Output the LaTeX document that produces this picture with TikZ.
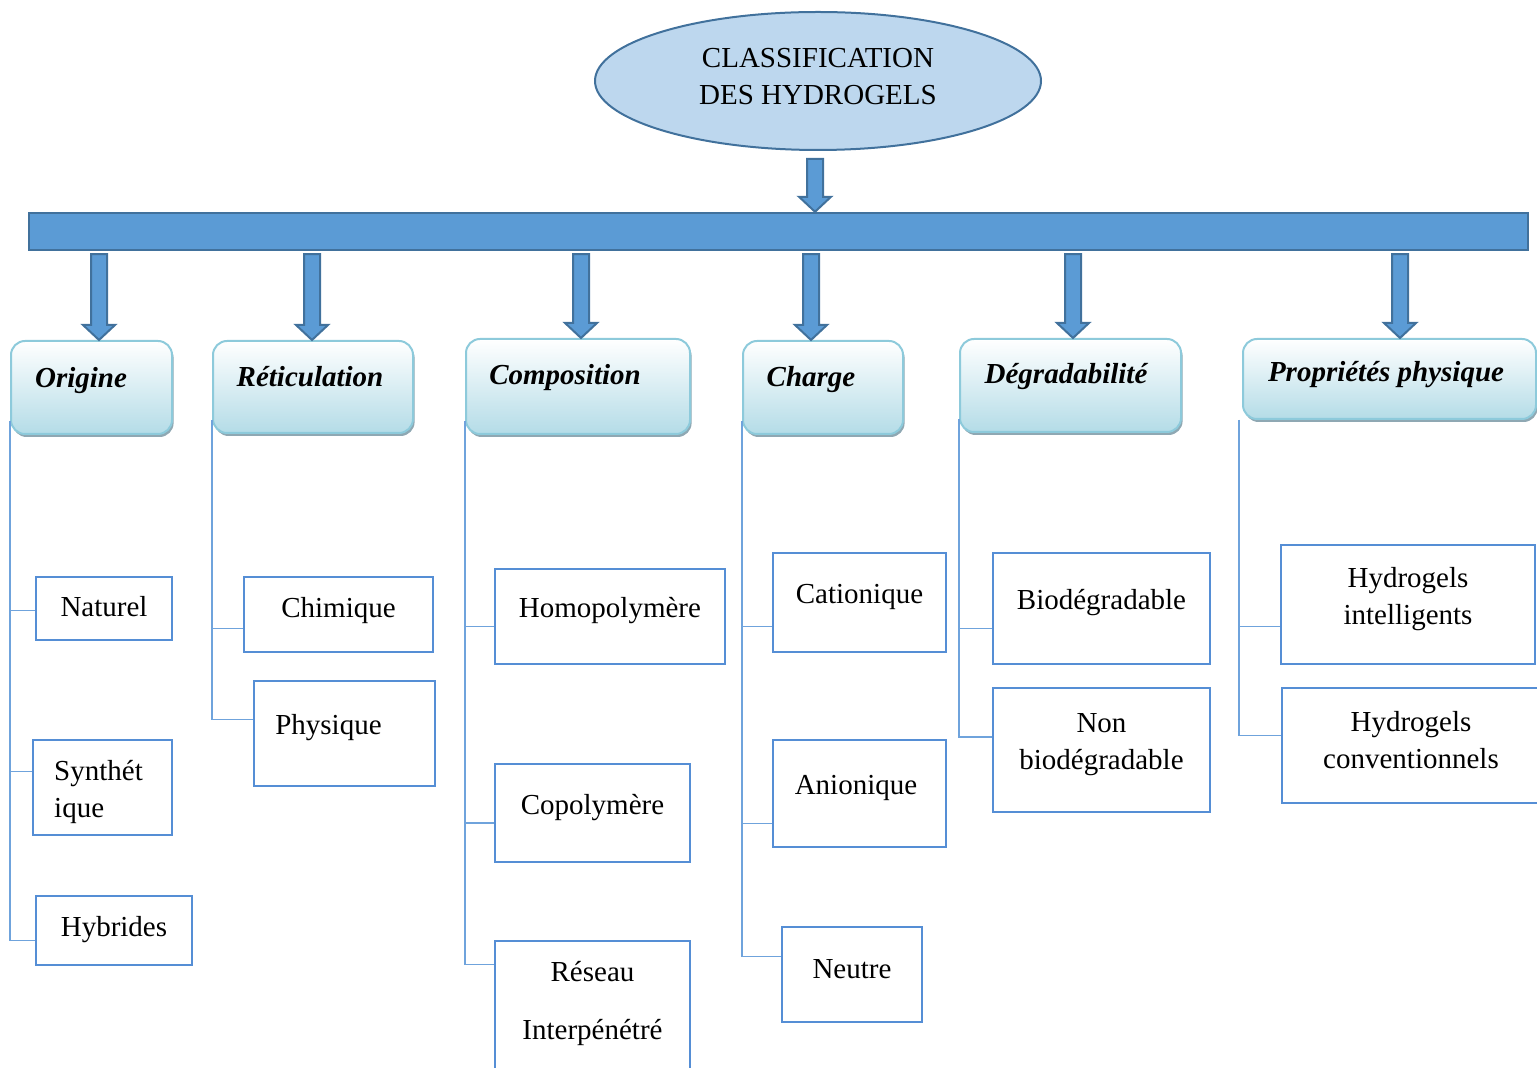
\documentclass[tikz,border=0pt]{standalone}
\usepackage{fontspec}
\setmainfont{Liberation Serif}
\usetikzlibrary{calc,shadows,shapes.geometric}
\definecolor{barblue}{HTML}{5B9BD5}
\definecolor{edgeblue}{HTML}{41719C}
\definecolor{rootfill}{HTML}{BDD7EE}
\definecolor{headline}{HTML}{8DCADB}
\definecolor{headfill}{HTML}{B4DCE7}
\definecolor{headshadow}{HTML}{8FA8B3}
\definecolor{leafline}{HTML}{558ED5}
\definecolor{linkblue}{HTML}{6FA3DC}
\tikzset{
% Ellipse on top, shaded headers, plain boxes for the classes
root node/.style={ellipse,draw=edgeblue,line width=1pt,fill=rootfill,minimum width=223pt,minimum height=69pt,inner sep=0},
bar node/.style={rectangle,draw=edgeblue,line width=1.2pt,fill=barblue,minimum width=749.5pt,minimum height=18.5pt,inner sep=0},
head node/.style={rectangle,rounded corners=7pt,draw=headline,line width=1pt,top color=white,bottom color=headfill,
  drop shadow={shadow xshift=0.8pt,shadow yshift=-1.5pt,fill=headshadow,opacity=1}},
head text/.style={font=\fontsize{14.5}{18}\selectfont\bfseries\itshape},
leaf node/.style={rectangle,draw=leafline,line width=1.2pt,fill=white},
leaf text/.style={align=center,yshift=2.75pt},
link/.style={draw=linkblue,line width=0.6pt},
block arrow/.style={draw=edgeblue,line width=1pt,fill=barblue,line join=miter}
}
% block arrow going down: x position, from, to
\newcommand\blockarrow[3]{%
  \draw[block arrow] let \p1=(#2), \p2=(#3), \p3=(#1,0) in
    (\x3-4pt,\y1) -- (\x3+4pt,\y1) -- (\x3+4pt,\y2+7.5pt) -- (\x3+8pt,\y2+7.5pt)
    -- (\x3,\y2) -- (\x3-8pt,\y2+7.5pt) -- (\x3-4pt,\y2+7.5pt) -- cycle;}

\begin{document}
\begin{tikzpicture}[x=0.5pt,y=-0.5pt,font=\fontsize{14.5}{18.5}\selectfont]
  \useasboundingbox (0,0) rectangle (1537,1068);
  \clip (0,0) rectangle (1537,1068);

  \node[root node,label={[align=center,yshift=2pt]center:CLASSIFICATION\\DES HYDROGELS}] (root) at (818,81) {};
  \node[bar node] (bar) at (778.5,231.5) {};
  \blockarrow{815}{[yshift=-4pt]root.south}{bar.north}

  % headers
  \node[head node,minimum width=80.5pt,minimum height=46.5pt,label={[head text,xshift=-5.25pt,yshift=3.25pt]center:Origine}] (origine) at (91.5,387.5) {};
  \node[head node,minimum width=100pt,minimum height=46pt,label={[head text,xshift=-1.5pt,yshift=5pt]center:Réticulation}] (reticul) at (313,387) {};
  \node[head node,minimum width=112pt,minimum height=47.5pt,label={[head text,xshift=-6.5pt,yshift=4.25pt]center:Composition}] (compo) at (578,386.5) {};
  \node[head node,minimum width=80pt,minimum height=46.5pt,label={[head text,xshift=-6pt,yshift=3.75pt]center:Charge}] (charge) at (823,387.5) {};
  \node[head node,minimum width=110.5pt,minimum height=46.5pt,label={[head text,xshift=-2.25pt,yshift=4.25pt]center:Dégradabilité}] (degrad) at (1070.5,385.5) {};
  \node[head node,minimum width=146.5pt,minimum height=40pt,label={[head text,xshift=-1.75pt,yshift=2pt]center:Propriétés physique}] (propr) at (1389.5,379) {};

  \foreach \pos/\head in {99/origine,312/reticul,581/compo,811/charge,1073/degrad,1400/propr}
    \blockarrow{\pos}{[yshift=-1.5pt]bar.south}{\head.north};

  % classes
  \node[leaf node,minimum width=68pt,minimum height=31.5pt,label={[leaf text,yshift=-1.75pt]center:Naturel}] (naturel) at (104,608.5) {};
  \node[leaf node,minimum width=69.5pt,minimum height=47.5pt,label={[leaf text,align=left,xshift=-2pt,yshift=-5.25pt]center:Synthét\\ique}] (synth) at (102.5,787.5) {};
  \node[leaf node,minimum width=78pt,minimum height=34.5pt,label={[leaf text,yshift=-2.25pt]center:Hybrides}] (hybrides) at (114,930.5) {};

  \node[leaf node,minimum width=94.5pt,minimum height=37.5pt,label={[leaf text,yshift=-0.75pt]center:Chimique}] (chimique) at (338.5,614.5) {};
  \node[leaf node,minimum width=90.5pt,minimum height=52.5pt,label={[leaf text,xshift=-8pt]center:Physique}] (physique) at (344.5,733.5) {};

  \node[leaf node,minimum width=115pt,minimum height=47.5pt,label={[leaf text]center:Homopolymère}] (homo) at (610,616.5) {};
  \node[leaf node,minimum width=97.5pt,minimum height=49pt,label={[leaf text]center:Copolymère}] (copo) at (592.5,813) {};
  \node[leaf node,minimum width=97.5pt,minimum height=79.5pt,label={[leaf text,yshift=5.75pt]center:Réseau\\[10.5pt]Interpénétré}] (reseau) at (592.5,1020.5) {};

  \node[leaf node,minimum width=86.5pt,minimum height=49.5pt,label={[leaf text]center:Cationique}] (cation) at (859.5,602.5) {};
  \node[leaf node,minimum width=86.5pt,minimum height=53.5pt,label={[leaf text,xshift=-1.75pt]center:Anionique}] (anion) at (859.5,793.5) {};
  \node[leaf node,minimum width=70pt,minimum height=47.5pt,label={[leaf text]center:Neutre}] (neutre) at (852,974.5) {};

  \node[leaf node,minimum width=108.5pt,minimum height=55.5pt,label={[leaf text]center:Biodégradable}] (biodeg) at (1101.5,608.5) {};
  \node[leaf node,minimum width=108.5pt,minimum height=62pt,label={[leaf text]center:Non\\biodégradable}] (nonbio) at (1101.5,750) {};

  \node[leaf node,minimum width=127pt,minimum height=59.5pt,label={[leaf text]center:Hydrogels\\intelligents}] (intel) at (1408,604.5) {};
  \node[leaf node,minimum width=131.5pt,minimum height=57.5pt,label={[leaf text,xshift=-1.25pt]center:Hydrogels\\conventionnels}] (conv) at (1413.5,745.5) {};

  % links from the headers to their classes
  \draw[link] ([yshift=7pt]origine.south west) |- ([yshift=-1pt]naturel.west);
  \draw[link] ([yshift=7pt]origine.south west) |- ([yshift=8pt]synth.west);
  \draw[link] ([yshift=7pt]origine.south west) |- ([yshift=-5pt]hybrides.west);
  \draw[link] ([yshift=7pt]reticul.south west) |- ([yshift=-7pt]chimique.west);
  \draw[link] ([yshift=7pt]reticul.south west) |- ([yshift=7pt]physique.west);
  \draw[link] ([yshift=7pt]compo.south west) |- ([yshift=-5pt]homo.west);
  \draw[link] ([yshift=7pt]compo.south west) |- ([yshift=-5pt]copo.west);
  \draw[link] ([yshift=7pt]compo.south west) |- ([yshift=-12.5pt]reseau.north west);
  \draw[link] ([yshift=7pt]charge.south west) |- ([yshift=-12pt]cation.west);
  \draw[link] ([yshift=7pt]charge.south west) |- ([yshift=-15pt]anion.west);
  \draw[link] ([yshift=7pt]charge.south west) |- ([yshift=9pt]neutre.west);
  \draw[link] ([yshift=7pt]degrad.south west) |- ([yshift=-10pt]biodeg.west);
  \draw[link] ([yshift=7pt]degrad.south west) |- ([yshift=6.5pt]nonbio.west);
  \draw[link] ([xshift=-1.5pt]propr.south west) |- ([yshift=-11pt]intel.west);
  \draw[link] ([xshift=-1.5pt]propr.south west) |- ([yshift=5pt]conv.west);
\end{tikzpicture}
\end{document}
